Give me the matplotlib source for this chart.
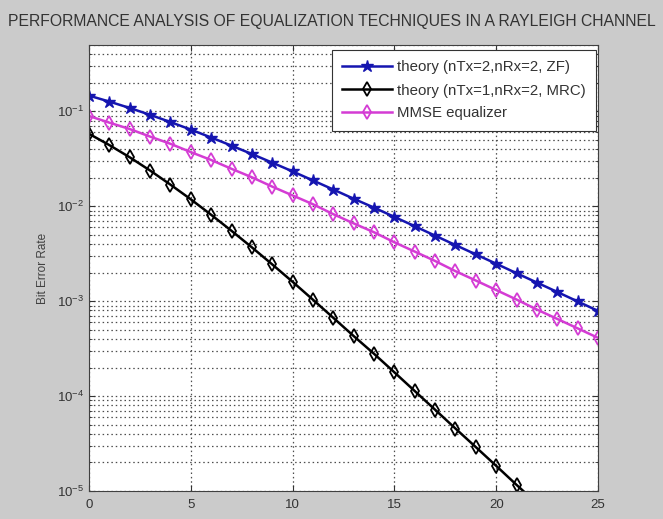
import matplotlib
matplotlib.use('Agg')
import matplotlib.pyplot as plt
from matplotlib.ticker import LogLocator, NullFormatter

plt.rcParams['font.family'] = ['Liberation Sans', 'DejaVu Sans']

# Eb/No in dB
ebno_db = list(range(0, 26))

# theory 2x2 ZF
ber_zf = [0.1464, 0.1267, 0.1085, 0.0919, 0.0771, 0.0642, 0.0530, 0.0435, 0.0355, 0.0288,
          0.0233, 0.0187, 0.0150, 0.0120, 0.00967, 0.00772, 0.00616, 0.00490, 0.00390, 0.00311,
          0.00248, 0.00197, 0.00157, 0.00125, 0.000994, 0.000790]
# theory 1x2 MRC (drops below the axis after ~21 dB)
ber_mrc = [0.0580, 0.0441, 0.0328, 0.0238, 0.0169, 0.01184, 0.00813, 0.00551, 0.00369, 0.00244,
           0.00160, 0.001036, 0.000668, 0.000429, 0.000279, 0.000178, 0.000113, 7.18e-5, 4.55e-5, 2.90e-5,
           1.84e-5, 1.16e-5, 7.4e-6, 4.7e-6, 2.96e-6, 1.87e-6]
# simulated MMSE
ber_mmse = [0.0893, 0.0760, 0.0651, 0.0542, 0.0455, 0.0372, 0.0307, 0.0248, 0.0202, 0.0161,
            0.0130, 0.0105, 0.00825, 0.0066, 0.00532, 0.00417, 0.00333, 0.00265, 0.00207, 0.00165,
            0.00131, 0.00104, 0.000816, 0.00065, 0.000517, 0.000411]

labels = ['theory (nTx=2,nRx=2, ZF)', 'theory (nTx=1,nRx=2, MRC)', 'MMSE equalizer']

fig = plt.figure(figsize=(6.63, 5.19), dpi=100, facecolor='#cbcbcb')
ax = fig.add_axes([89/663, 1-491/519, 509/663, 446/519])
ax.set_facecolor('white')

ax.semilogy(ebno_db, ber_zf, '-', color='#1515b0', lw=1.8, marker='*', ms=9,
            mfc='#1515b0', mec='#1515b0', label=labels[0])
ax.semilogy(ebno_db, ber_mrc, '-', color='black', lw=1.8, marker='d', ms=7,
            mfc='none', mec='black', mew=1.3, label=labels[1])
ax.semilogy(ebno_db, ber_mmse, '-', color='#d43cd4', lw=1.8, marker='d', ms=7,
            mfc='none', mec='#d43cd4', mew=1.3, label=labels[2])

ax.set_xlim(0, 25)
ax.set_ylim(1e-5, 0.5)
ax.set_xticks([0, 5, 10, 15, 20, 25])
ax.yaxis.set_major_locator(LogLocator(base=10, numticks=10))
ax.yaxis.set_minor_locator(LogLocator(base=10, subs=range(2, 10), numticks=20))
ax.yaxis.set_minor_formatter(NullFormatter())

ax.grid(True, which='major', axis='both', color='0.3', ls=(0, (1.2, 2.3)), lw=0.9)
ax.grid(True, which='minor', axis='y', color='0.3', ls=(0, (1.2, 2.3)), lw=0.9)
ax.tick_params(which='both', direction='in', top=True, right=True, labelsize=9.5, colors='0.2')
ax.tick_params(axis='x', pad=6)
ax.tick_params(which='major', length=4)
ax.tick_params(which='minor', length=2)
for s in ax.spines.values():
    s.set_color('0.25')

ax.set_ylabel('Bit Error Rate', fontsize=8.5, color='0.25', labelpad=6)

fig.text(332/663, 1-22/519, 'PERFORMANCE ANALYSIS OF EQUALIZATION TECHNIQUES IN A RAYLEIGH CHANNEL',
         ha='center', va='center', fontsize=11.3, color='0.2')

leg = ax.legend(loc='upper right', bbox_to_anchor=(596/663, 1-50/519), bbox_transform=fig.transFigure,
                fontsize=10.8, handlelength=3.3, borderaxespad=0, fancybox=False, framealpha=1,
                edgecolor='0.2', borderpad=0.7, labelspacing=0.6, handletextpad=0.35)
leg.get_frame().set_linewidth(0.8)
for t in leg.get_texts():
    t.set_color('0.2')

fig.savefig('out.png', dpi=100, facecolor=fig.get_facecolor())
